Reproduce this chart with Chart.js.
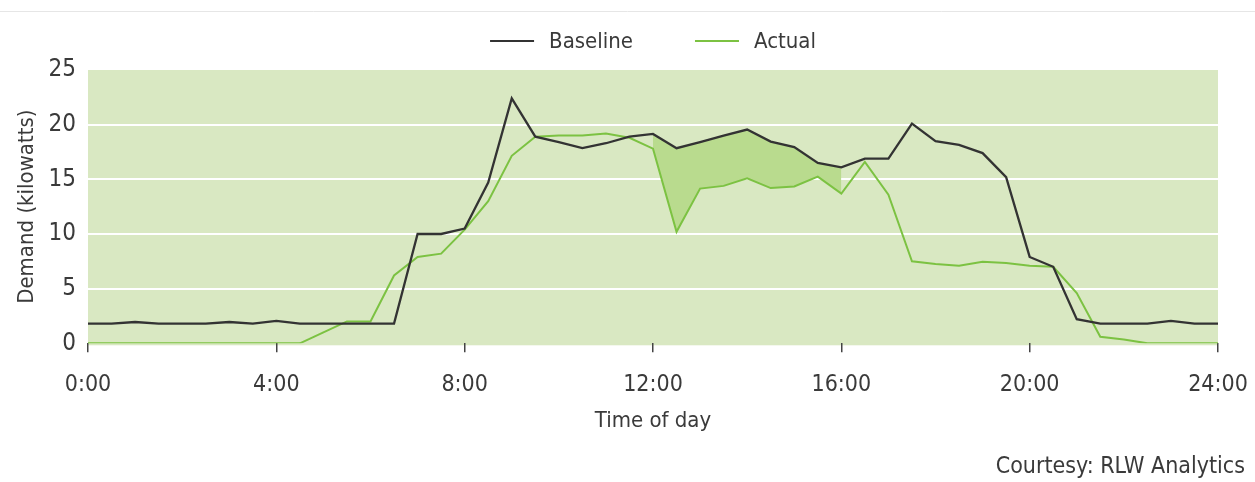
<!DOCTYPE html>
<html>
<head>
<meta charset="utf-8">
<script src="https://cdn.jsdelivr.net/npm/chart.js@4/dist/chart.umd.min.js"></script>
<style>
  html, body { margin: 0; padding: 0; background: #ffffff; }
  #wrap { position: relative; width: 1255px; height: 482px; }
</style>
</head>
<body>
<div id="wrap"><canvas id="c"></canvas></div>
<script>
const timeLabels = ["0:00","0:30","1:00","1:30","2:00","2:30","3:00","3:30","4:00","4:30","5:00","5:30",
  "6:00","6:30","7:00","7:30","8:00","8:30","9:00","9:30","10:00","10:30","11:00","11:30",
  "12:00","12:30","13:00","13:30","14:00","14:30","15:00","15:30","16:00","16:30","17:00","17:30",
  "18:00","18:30","19:00","19:30","20:00","20:30","21:00","21:30","22:00","22:30","23:00","23:30","24:00"];
const shownTicks = ["0:00","4:00","8:00","12:00","16:00","20:00","24:00"];

const baseline = [1.8,1.8,1.95,1.8,1.8,1.8,1.95,1.8,2.05,1.8,1.8,1.8,
  1.8,1.8,10.0,10.0,10.5,14.7,22.4,18.9,18.4,17.85,18.3,18.9,
  19.15,17.85,18.4,19.0,19.55,18.45,17.95,16.5,16.1,16.9,16.9,20.1,
  18.5,18.15,17.4,15.2,7.9,7.0,2.2,1.8,1.8,1.8,2.05,1.8,1.8];

const actual = [0,0,0,0,0,0,0,0,0,0,1.0,2.0,
  2.0,6.2,7.9,8.2,10.4,13.0,17.15,18.9,19.0,19.0,19.2,18.8,
  17.8,10.2,14.15,14.4,15.1,14.2,14.35,15.25,13.7,16.6,13.6,7.5,
  7.25,7.1,7.45,7.35,7.1,7.0,4.6,0.6,0.35,0,0,0,0];

const shadeFrom = "12:00";
const shadeTo = "16:00";
const yTicks = [0, 5, 10, 15, 20, 25];
const seriesNames = ["Baseline", "Actual"];
const courtesy = "Courtesy: RLW Analytics";
const yTitle = "Demand (kilowatts)";
const xTitle = "Time of day";

const FONT = "'Liberation Sans Narrow', 'DejaVu Sans Condensed', 'Arial Narrow', sans-serif";
const TEXT = "#3a3a3a";
const BG = "#d9e8c2";
const SHADE = "#b9db8e";
const GREEN = "#7cc242";
const DARK = "#333333";

const i0 = timeLabels.indexOf(shadeFrom), i1 = timeLabels.indexOf(shadeTo);
const shadeData = actual.map((v, i) => (i >= i0 && i <= i1) ? v : null);

const decor = {
  id: 'decor',
  beforeDraw(chart) {
    const {ctx, chartArea: a} = chart;
    ctx.save();
    ctx.strokeStyle = '#e6e6e6';
    ctx.lineWidth = 1;
    ctx.beginPath(); ctx.moveTo(0, 11.5); ctx.lineTo(chart.width, 11.5); ctx.stroke();
    ctx.fillStyle = BG;
    ctx.fillRect(a.left, a.top, a.right - a.left, a.bottom - a.top + 2);
    ctx.restore();
  },
  afterDraw(chart) {
    const {ctx, chartArea: a} = chart;
    ctx.save();
    ctx.font = "22px " + FONT;
    ctx.fillStyle = TEXT;
    ctx.textBaseline = 'middle';
    const sample = 44, gapText = 15, gapItem = 62;
    const items = [0, 1].map(i => ({
      text: chart.data.datasets[i].label,
      color: chart.data.datasets[i].borderColor,
      w: sample + gapText + ctx.measureText(chart.data.datasets[i].label).width
    }));
    const total = items.reduce((s, it) => s + it.w, 0) + gapItem;
    let x = (a.left + a.right) / 2 - total / 2;
    const y = 41;
    items.forEach(it => {
      ctx.strokeStyle = it.color;
      ctx.lineWidth = 2;
      ctx.beginPath(); ctx.moveTo(x, y); ctx.lineTo(x + sample, y); ctx.stroke();
      ctx.fillText(it.text, x + sample + gapText, y + 1);
      x += it.w + gapItem;
    });
    ctx.font = "23px " + FONT;
    ctx.textAlign = 'right';
    ctx.fillText(courtesy, 1245, 467);
    ctx.restore();
  }
};

new Chart(document.getElementById('c'), {
  type: 'line',
  data: {
    labels: timeLabels,
    datasets: [
      { label: seriesNames[0], data: baseline, borderColor: DARK, borderWidth: 2.3,
        pointRadius: 0, tension: 0, fill: false },
      { label: seriesNames[1], data: actual, borderColor: GREEN, borderWidth: 2,
        pointRadius: 0, tension: 0, fill: false },
      { label: 'shade', data: shadeData, borderWidth: 0, borderColor: 'rgba(0,0,0,0)',
        pointRadius: 0, tension: 0, spanGaps: false,
        fill: { target: 0, above: SHADE, below: SHADE } }
    ]
  },
  options: {
    responsive: true,
    maintainAspectRatio: false,
    animation: false,
    layout: { padding: { top: 70, left: 0, right: 37, bottom: 0 } },
    plugins: { legend: { display: false }, tooltip: { enabled: false }, title: { display: false } },
    scales: {
      x: {
        type: 'category',
        offset: false,
        afterFit(s) { s.height = 482 - 343.3; s.paddingLeft = 0; s.paddingRight = 0; },
        border: { display: false },
        grid: { drawOnChartArea: false, drawTicks: true, tickLength: 9, color: '#444', lineWidth: 1.5 },
        ticks: {
          autoSkip: false, maxRotation: 0, padding: 19, color: TEXT,
          font: { family: FONT, size: 23 },
          callback(v) { const l = this.getLabelForValue(v); return shownTicks.includes(l) ? l : null; }
        },
        title: { display: true, text: xTitle, color: TEXT, font: { family: FONT, size: 22 },
                 padding: { top: 0, bottom: 48 } }
      },
      y: {
        min: 0, max: 25,
        afterFit(s) { s.width = 88; s.paddingTop = 0; s.paddingBottom = 0; },
        afterBuildTicks(s) { s.ticks = yTicks.map(v => ({ value: v })); },
        border: { display: false },
        grid: { drawTicks: false, lineWidth: 2,
                color: c => (c.tick && (c.tick.value === 0 || c.tick.value === 25)) ? 'rgba(0,0,0,0)' : '#ffffff' },
        ticks: { padding: 12, color: TEXT, font: { family: FONT, size: 24 } },
        title: { display: true, text: yTitle, color: TEXT, font: { family: FONT, size: 22 },
                 padding: { top: 14, bottom: 0 } }
      }
    }
  },
  plugins: [decor]
});
</script>
</body>
</html>
